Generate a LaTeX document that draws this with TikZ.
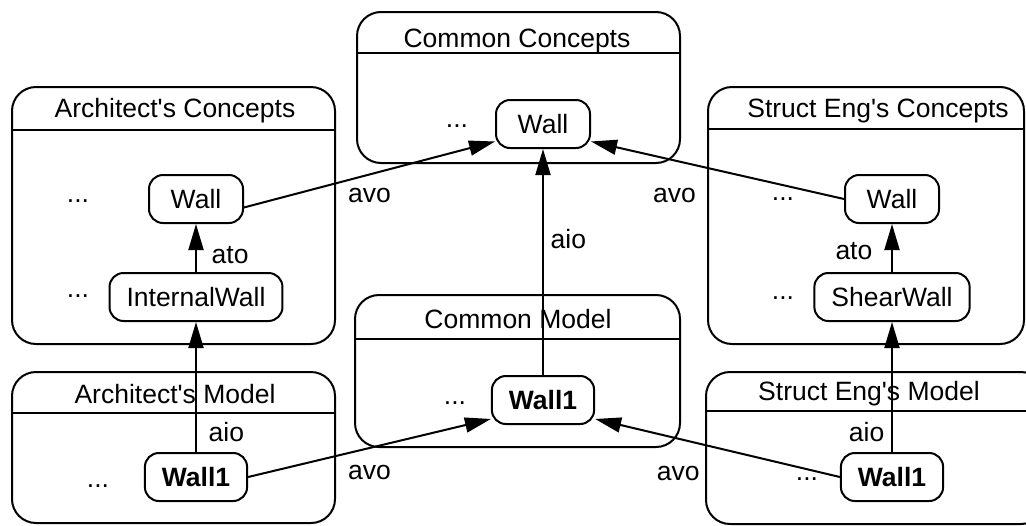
\documentclass[tikz,border=0pt]{standalone}
\usepackage{fontspec}
\setmainfont{Liberation Sans}
\usetikzlibrary{positioning}
\usetikzlibrary{arrows.meta}

\newcommand{\q}{\textquotesingle}

\tikzset{
  concept/.style={draw, line width=1pt, rounded corners=7pt, minimum width=47pt,
    minimum height=24pt, inner xsep=8.5pt},
  instance/.style={concept, font=\fontsize{13.25}{16}\selectfont\bfseries},
  pkg/.style={draw, line width=1pt, rounded corners=12pt},
  pkgtitle/.style={anchor=base},
  etc/.style={inner sep=0pt, anchor=base}
}

\begin{document}
\begin{tikzpicture}[x=0.5pt,y=-0.5pt,node distance=49pt,on grid,line width=1pt,
    font=\fontsize{13.25}{16}\selectfont,>={Triangle[length=13pt,width=7.5pt]}]
   \useasboundingbox (0,0) rectangle (1026,525);
   \clip (0,0) rectangle (1026,525);

   % packages
   \draw[pkg] (12,87) rectangle (335,344);
   \draw (12,130) -- (335,130);
   \node[pkgtitle] at (175,117) {Architect\q s Concepts};
   \draw[pkg] (357,12) rectangle (680,163);
   \draw (357,53) -- (680,53);
   \node[pkgtitle] at (517,47) {Common Concepts};
   \draw[pkg] (708,87) rectangle (1024,344);
   \draw (708,129) -- (1024,129);
   \node[pkgtitle] at (878,117) {Struct Eng\q s Concepts};
   \draw[pkg] (12,372) rectangle (335,523);
   \draw (12,413) -- (335,413);
   \node[pkgtitle] at (175,403) {Architect\q s Model};
   \draw[pkg] (355,295) rectangle (680,447);
   \draw (355,339) -- (680,339);
   \node[pkgtitle] at (518,328) {Common Model};
   \draw[pkg] (706,372) rectangle (1045,524);
   \draw (706,411) -- (1045,411);
   \node[pkgtitle] at (869,400) {Struct Eng\q s Model};

   % concepts and instances
   \node[concept] (awall) at (196,199) {Wall};
   \node[concept] (iwall) [below=of awall] {InternalWall};
   \node[instance] (awallone) [below=90pt of iwall] {Wall1};
   \node[concept] (cwall) at (543,124) {Wall};
   \node[instance] (cwallone) [below=138pt of cwall] {Wall1};
   \node[concept] (swall) at (892,199) {Wall};
   \node[concept] (shear) [below=of swall] {ShearWall};
   \node[instance] (swallone) [below=90pt of shear] {Wall1};

   \node[etc] (ae1) at (78,202) {...};
   \node[etc] (ae2) at (78,297) {...};
   \node[etc] (ce1) at (457,127) {...};
   \node[etc] (se1) at (783,200) {...};
   \node[etc] (se2) at (783,299) {...};
   \node[etc] (ae3) at (98,487) {...};
   \node[etc] (ce2) at (455,404) {...};
   \node[etc] (se3) at (807,480) {...};

    \path[->]
    (iwall) edge node [pos=.36,right=4pt] {ato} (awall)
    (awallone) edge node [pos=.15,right=2.5pt] {aio} (iwall)
    (shear) edge node [pos=.43,left=6pt] {ato} (swall)
    (swallone) edge node [pos=.15,left=0pt] {aio} (shear)
    (cwallone) edge node [pos=.6,right=0pt] {aio} (cwall)
    (awall.350) edge node [pos=.5,below=3pt] {avo} (cwall.200)
    (swall.west) edge node [pos=.67,below=10pt] {avo} (cwall.340)
    (awallone.east) edge node [pos=.5,below=5pt] {avo} (cwallone.200)
    (swallone.west) edge node [pos=.66,below=10pt] {avo} (cwallone.340);
\end{tikzpicture}
\end{document}
